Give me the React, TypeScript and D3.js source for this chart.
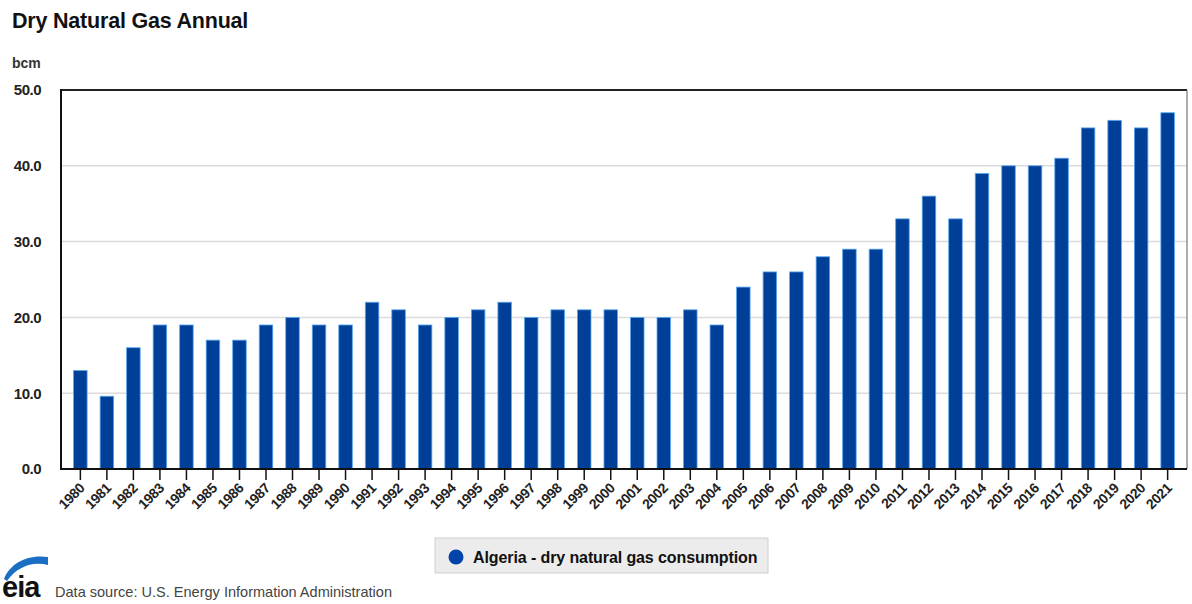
import React from "react";
import * as d3 from "d3";

// Algeria dry natural gas consumption, billion cubic metres
const years: string[] = [
  "1980", "1981", "1982", "1983", "1984", "1985", "1986", "1987", "1988", "1989",
  "1990", "1991", "1992", "1993", "1994", "1995", "1996", "1997", "1998", "1999",
  "2000", "2001", "2002", "2003", "2004", "2005", "2006", "2007", "2008", "2009",
  "2010", "2011", "2012", "2013", "2014", "2015", "2016", "2017", "2018", "2019",
  "2020", "2021",
];
const consumption: number[] = [
  13, 9.6, 16, 19, 19, 17, 17, 19, 20, 19,
  19, 22, 21, 19, 20, 21, 22, 20, 21, 21,
  21, 20, 20, 21, 19, 24, 26, 26, 28, 29,
  29, 33, 36, 33, 39, 40, 40, 41, 45, 46,
  45, 47,
];
const yTicks: number[] = [0, 10, 20, 30, 40, 50];

const title = "Dry Natural Gas Annual";
const unitLabel = "bcm";
const seriesName = "Algeria - dry natural gas consumption";
const sourceNote = "Data source: U.S. Energy Information Administration";

const W = 1192;
const H = 604;
const plot = { left: 61, right: 1187, top: 90, bottom: 469 };
const BAR = "#003f98";
const FONT = "'Liberation Sans', Arial, Helvetica, sans-serif";

export default function App() {
  const x = d3
    .scaleBand<string>()
    .domain(years)
    .range([plot.left, plot.right])
    .paddingInner(0.49)
    .paddingOuter(0.475);
  const y = d3.scaleLinear().domain([0, 50]).range([plot.bottom, plot.top]);
  const fmt = d3.format(".1f");

  return (
    <svg
      width={W}
      height={H}
      viewBox={`0 0 ${W} ${H}`}
      style={{ position: "absolute", left: 0, top: 0, background: "#fff" }}
      fontFamily={FONT}
    >
      <rect x={0} y={0} width={W} height={H} fill="#fff" />

      {/* header */}
      <text x={12} y={28} fontSize={21.5} fontWeight="bold" fill="#111" letterSpacing={-0.2}>
        {title}
      </text>
      <text x={12} y={68} fontSize={14} fontWeight="bold" fill="#333">
        {unitLabel}
      </text>

      {/* gridlines */}
      {yTicks
        .filter((t) => t > 0 && t < 50)
        .map((t) => (
          <line
            key={`g${t}`}
            x1={plot.left}
            x2={plot.right}
            y1={y(t)}
            y2={y(t)}
            stroke="#dcdcdc"
            strokeWidth={1.5}
          />
        ))}

      {/* bars */}
      {years.map((yr, i) => (
        <rect
          key={yr}
          x={x(yr)}
          y={y(consumption[i])}
          width={x.bandwidth()}
          height={y(0) - y(consumption[i])}
          fill={BAR}
          stroke="#5aa8f0"
          strokeWidth={0.8}
        />
      ))}

      {/* frame */}
      <line x1={plot.left} x2={plot.right} y1={plot.top} y2={plot.top} stroke="#222" strokeWidth={2} />
      <line x1={plot.right} x2={plot.right} y1={plot.top} y2={plot.bottom} stroke="#777" strokeWidth={1.2} />
      <line x1={plot.left} x2={plot.left} y1={plot.top - 1} y2={plot.bottom + 1} stroke="#111" strokeWidth={2} />
      <line x1={plot.left} x2={plot.right} y1={plot.bottom} y2={plot.bottom} stroke="#111" strokeWidth={2} />

      {/* y axis labels */}
      {yTicks.map((t) => (
        <text
          key={`y${t}`}
          x={41}
          y={y(t)}
          dy="0.36em"
          textAnchor="end"
          fontSize={15}
          fontWeight="bold"
          fill="#222"
          letterSpacing={-0.5}
        >
          {fmt(t)}
        </text>
      ))}

      {/* x axis ticks and labels */}
      {years.map((yr) => {
        const cx = (x(yr) as number) + x.bandwidth() / 2;
        return (
          <g key={`x${yr}`}>
            <line x1={cx} x2={cx} y1={plot.bottom} y2={plot.bottom + 11} stroke="#111" strokeWidth={1.5} />
            <text
              transform={`translate(${cx + 5},${plot.bottom + 20}) rotate(-45)`}
              textAnchor="end"
              fontSize={14}
              fontWeight="bold"
              fill="#222"
              letterSpacing={-0.4}
            >
              {yr}
            </text>
          </g>
        );
      })}

      {/* legend */}
      <rect x={435} y={538} width={333} height={35} fill="#ececec" stroke="#cfcfcf" strokeWidth={1} />
      <circle cx={456} cy={557} r={7.5} fill="#0044aa" />
      <text x={473} y={563} fontSize={16} fontWeight="bold" fill="#111" letterSpacing={-0.1}>
        {seriesName}
      </text>

      {/* source */}
      <path d="M4,579 C10,563 28,554 48,557 L48,565 C32,561 17,567 7,581 Z" fill="#1a6fc4" />
      <text x={2} y={597} fontSize={29} fontWeight="bold" fill="#111" letterSpacing={-1}>
        eia
      </text>
      <text x={55} y={597} fontSize={15} fill="#444" textLength={337} lengthAdjust="spacingAndGlyphs">
        {sourceNote}
      </text>
    </svg>
  );
}
